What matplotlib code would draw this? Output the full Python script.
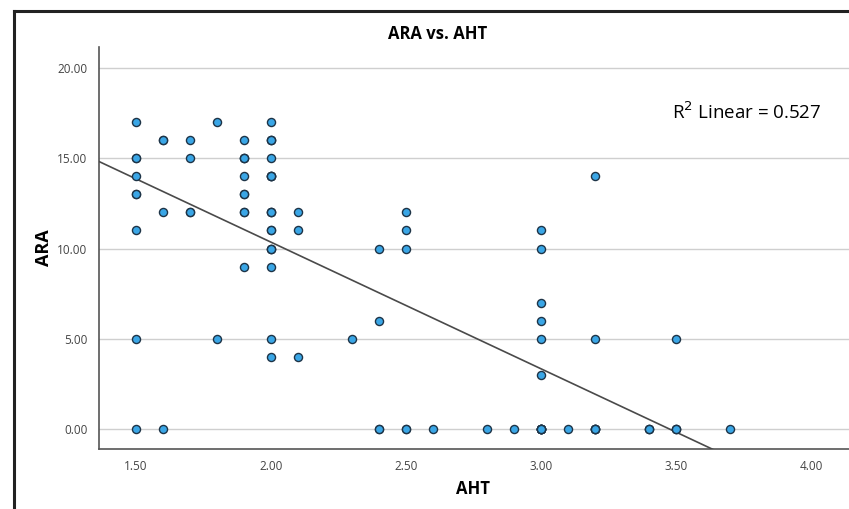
import numpy as np
import matplotlib
matplotlib.use("Agg")
import matplotlib.pyplot as plt
from matplotlib.lines import Line2D

# AHT values and matching ARA values
# (overlapping points appear darker in the reference, so they are repeated)
aht = [1.5, 1.5, 1.5, 1.5, 1.5, 1.5, 1.5, 1.5, 1.5,
       1.6, 1.6, 1.6, 1.6,
       1.7, 1.7, 1.7, 1.7,
       1.8, 1.8,
       1.9, 1.9, 1.9, 1.9, 1.9, 1.9, 1.9, 1.9, 1.9, 1.9,
       2.0, 2.0, 2.0, 2.0, 2.0, 2.0, 2.0, 2.0, 2.0, 2.0, 2.0, 2.0, 2.0,
       2.0, 2.0, 2.0, 2.0, 2.0, 2.0, 2.0,
       2.1, 2.1, 2.1,
       2.3,
       2.4, 2.4, 2.4, 2.4,
       2.5, 2.5, 2.5, 2.5, 2.5,
       2.6, 2.8, 2.9,
       3.0, 3.0, 3.0, 3.0, 3.0, 3.0, 3.0, 3.0, 3.0, 3.0, 3.0, 3.0, 3.0, 3.0,
       3.1,
       3.2, 3.2, 3.2, 3.2, 3.2, 3.2, 3.2,
       3.4, 3.4, 3.4,
       3.5, 3.5, 3.5, 3.5,
       3.7]
ara = [17, 15, 15, 14, 13, 13, 11, 5, 0,
       16, 16, 12, 0,
       16, 15, 12, 12,
       17, 5,
       16, 15, 15, 15, 14, 13, 13, 12, 12, 9,
       17, 16, 16, 16, 15, 14, 14, 14, 14, 12, 12, 12, 11,
       11, 10, 10, 10, 9, 5, 4,
       12, 11, 4,
       5,
       10, 6, 0, 0,
       12, 11, 10, 0, 0,
       0, 0, 0,
       11, 10, 7, 6, 5, 3, 0, 0, 0, 0, 0, 0, 0, 0,
       0,
       14, 5, 0, 0, 0, 0, 0,
       0, 0, 0,
       5, 0, 0, 0,
       0]
x_ticks = [1.5, 2.0, 2.5, 3.0, 3.5, 4.0]
y_ticks = [0, 5, 10, 15, 20]

plt.rcParams['font.family'] = ['Open Sans', 'DejaVu Sans']

fig = plt.figure(figsize=(8.49, 5.09), dpi=100)
ax = fig.add_axes([0.1163, 0.1179, 0.8837, 0.7898])

x = np.array(aht)
y = np.array(ara)
slope, intercept = np.polyfit(x, y, 1)

ax.set_xlim(1.362, 4.14)
ax.set_ylim(-1.1, 21.16)

# linear fit line
xs = np.array([1.2, 4.2])
ax.plot(xs, intercept + slope * xs, color='#4a4a4a', lw=1.2, zorder=3)
ax.scatter(x, y, s=34, color='#3aa6e6', edgecolor='#1e3447', linewidth=1.0, zorder=4)

ax.set_xticks(x_ticks)
ax.set_yticks(y_ticks)
ax.set_xticklabels([f"{v:.2f}" for v in x_ticks])
ax.set_yticklabels([f"{v:.2f}" for v in y_ticks])
ax.tick_params(length=0, labelsize=8.5, colors='#444444', pad=8)
ax.yaxis.grid(True, color='#cfcfcf', lw=1)
ax.set_axisbelow(True)
for s in ['top', 'right']:
    ax.spines[s].set_visible(False)
for s in ['left', 'bottom']:
    ax.spines[s].set_color('#555555')
    ax.spines[s].set_linewidth(1.2)

ax.set_ylabel('ARA', fontsize=13, fontweight='bold', labelpad=3)
fig.text(0.557, 0.04, 'AHT', ha='center', va='center', fontsize=12, fontweight='bold')
fig.text(0.516, 0.933, 'ARA vs. AHT', ha='center', va='center', fontsize=12, fontweight='bold')
fig.text(0.968, 0.78, r'R$^2$ Linear = 0.527', ha='right', va='center', fontsize=13.5)

# outer frame (left and top edges)
fig.add_artist(Line2D([0.0165, 0.0165], [0.0, 0.978], color='#222222', lw=2.2, transform=fig.transFigure))
fig.add_artist(Line2D([0.0165, 1.0], [0.978, 0.978], color='#222222', lw=2.2, transform=fig.transFigure))

fig.savefig('out.png', dpi=100)
